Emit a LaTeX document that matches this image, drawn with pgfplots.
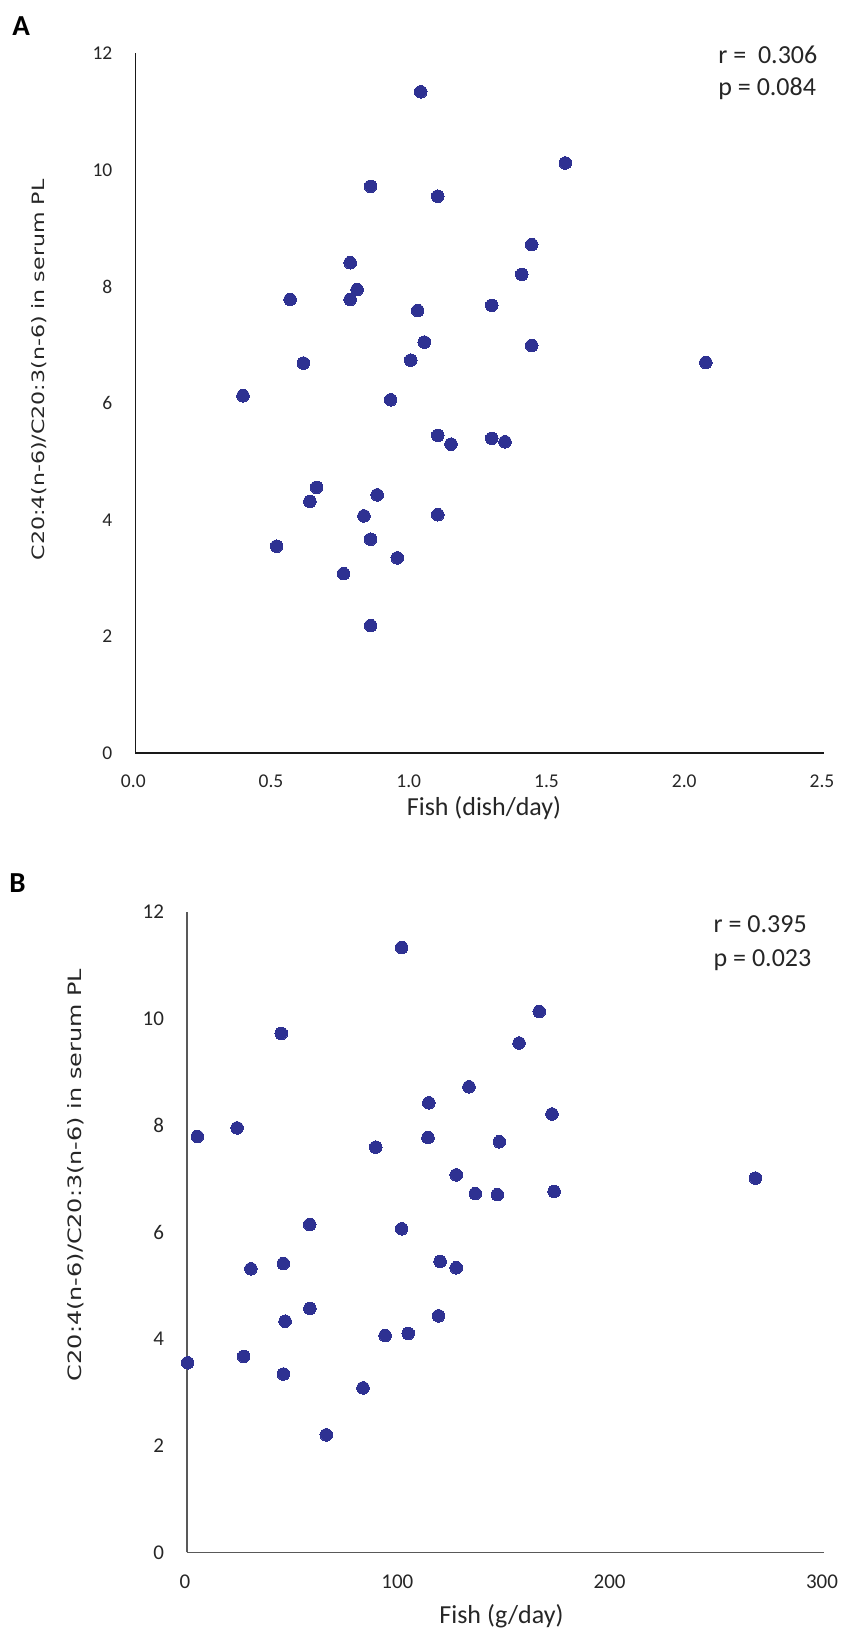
\documentclass[border=0pt]{standalone}
\usepackage{fontspec}
\setmainfont{Carlito}
\newfontfamily\djv{DejaVu Sans}
\usepackage{graphicx}
\usepackage{pgfplots}
\pgfplotsset{compat=1.18}
\definecolor{dotblue}{RGB}{46,49,146}
\definecolor{txt}{RGB}{38,38,38}

\pgfplotsset{
  fishplot/.style={
    scale only axis, clip=false,
    axis lines=left, axis line style={-},
    major tick length=0pt,
    /pgf/number format/assume math mode=true,
    tick label style={color=txt, inner sep=0pt},
    yticklabel style={anchor=east, xshift=-11.3pt},
    xticklabel style={anchor=north, xshift=-1pt},
    label style={color=txt, inner sep=0pt},
    ymin=0, ymax=12, ytick={0,2,4,6,8,10,12},
  },
  dots/.style={only marks, mark=*, mark size=3.15pt,
    mark options={draw=dotblue, fill=dotblue, line width=0pt}},
}

\begin{document}
\begin{tikzpicture}
\path[use as bounding box] (0,0) rectangle (421pt,-814.5pt);

% panel A: dishes per day
\begin{axis}[fishplot,
  at={(67.65pt,-376.65pt)}, anchor=south west,
  width=344.35pt, height=350pt,
  xmin=0, xmax=2.5, xtick={0,0.5,1,1.5,2,2.5},
  x axis line style={-, line width=1pt, color=black!90},
  y axis line style={-, line width=0.5pt, color=black!90},
  tick label style={font=\fontsize{9.75}{10}\selectfont},
  xticklabel style={yshift=-10.4pt, /pgf/number format/fixed,
    /pgf/number format/fixed zerofill, /pgf/number format/precision=1},
  xlabel={Fish (dish/day)},
  xlabel style={at={(axis description cs:0.5,0)}, anchor=center,
    xshift=2.2pt, yshift=-27.6pt, font=\fontsize{13}{14}\selectfont},
  ylabel={\scalebox{1.3}[1]{C20:4(n-6)/C20:3(n-6) in serum PL}},
  ylabel style={at={(axis description cs:-0.1398,0.5476)}, anchor=center,
    font=\djv\fontsize{8.5}{10}\selectfont},
]
\addplot[dots] coordinates {
  (1.036,11.34) (0.854,9.72) (1.098,9.55) (0.780,8.41) (0.805,7.95)
  (0.562,7.78) (0.780,7.78) (1.025,7.59) (1.294,7.68) (1.049,7.05)
  (1.000,6.74) (0.610,6.69) (0.391,6.13) (0.927,6.06) (1.561,10.12)
  (1.439,8.72) (1.403,8.21) (1.439,6.99) (2.071,6.70) (1.098,5.45)
  (1.146,5.30) (1.294,5.40) (1.342,5.34) (0.658,4.56) (0.634,4.32)
  (0.878,4.43) (0.830,4.07) (1.098,4.09) (0.513,3.55) (0.854,3.67)
  (0.951,3.35) (0.756,3.08) (0.854,2.19)
};
\end{axis}

% panel B: grams per day
\begin{axis}[fishplot,
  at={(93.5pt,-776.15pt)}, anchor=south west,
  width=318.5pt, height=320.3pt,
  xmin=0, xmax=300, xtick={0,100,200,300},
  axis line style={-, line width=0.65pt, color=black!65},
  tick label style={font=\fontsize{10.5}{11}\selectfont},
  xticklabel style={yshift=-10.9pt},
  xlabel={Fish (g/day)},
  xlabel style={at={(axis description cs:0.5,0)}, anchor=center,
    xshift=-2pt, yshift=-31.85pt, font=\fontsize{13}{14}\selectfont},
  ylabel={\scalebox{1.3}[1]{C20:4(n-6)/C20:3(n-6) in serum PL}},
  ylabel style={at={(axis description cs:-0.174,0.589)}, anchor=center,
    font=\djv\fontsize{9.2}{10}\selectfont},
]
\addplot[dots] coordinates {
  (101.1,11.33) (44.4,9.72) (165.9,10.13) (156.4,9.54) (132.8,8.72)
  (113.9,8.42) (4.9,7.79) (23.6,7.95) (88.9,7.59) (113.5,7.77)
  (147.1,7.69) (126.8,7.07) (135.8,6.72) (146.2,6.70) (57.8,6.14)
  (101.1,6.06) (171.9,8.21) (172.9,6.76) (267.7,7.01) (30.1,5.31)
  (45.4,5.41) (119.2,5.45) (126.8,5.33) (57.9,4.57) (46.2,4.33)
  (118.5,4.43) (93.3,4.06) (104.2,4.10) (0.3,3.55) (26.7,3.67)
  (45.4,3.34) (82.9,3.08) (65.6,2.20)
};
\end{axis}

\node[anchor=base west, inner sep=0pt, font=\bfseries\fontsize{14.5}{15}\selectfont] at (6pt,-17.5pt) {A};
\node[anchor=base west, inner sep=0pt, font=\bfseries\fontsize{14.5}{15}\selectfont] at (4.5pt,-446.35pt) {B};
\begin{scope}[every node/.style={anchor=base west, inner sep=0pt, text=txt, font=\fontsize{13}{14}\selectfont}]
\node at (359pt,-31.85pt) {r =\ \ 0.306};
\node at (359pt,-47.5pt) {p = 0.084};
\node at (356.65pt,-466.35pt) {r = 0.395};
\node at (356.65pt,-483pt) {p = 0.023};
\end{scope}
\end{tikzpicture}
\end{document}
